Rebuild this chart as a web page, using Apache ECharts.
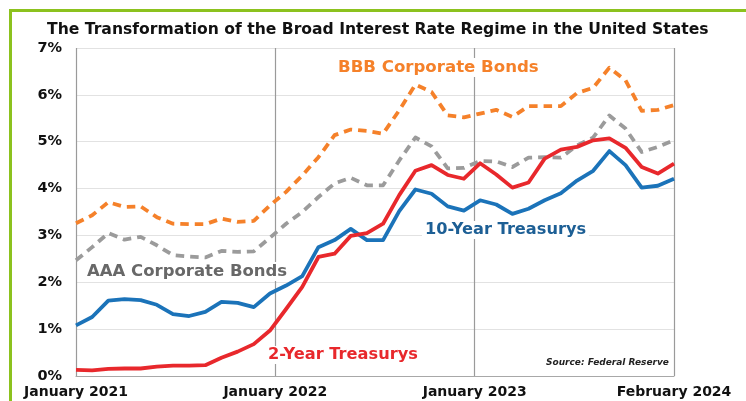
<!DOCTYPE html>
<html>
<head>
<meta charset="utf-8">
<title>Interest Rate Regime</title>
<script src="https://cdn.jsdelivr.net/npm/echarts@6/dist/echarts.min.js"></script>
<style>
  html, body { margin: 0; padding: 0; background: #ffffff; }
  #frame {
    position: absolute; left: 9px; top: 9px; width: 737px; height: 389px;
    border-top: 3px solid #8cc21e; border-left: 3px solid #8cc21e;
    border-bottom: 1px solid #cfcfcf;
  }
  #chart { position: absolute; left: 0; top: 0; width: 746px; height: 401px; }
</style>
</head>
<body>
<div id="frame"></div>
<div id="chart"></div>
<script>
// Monthly averages, January 2021 through February 2024 (percent)
const months = [
  '2021-01','2021-02','2021-03','2021-04','2021-05','2021-06','2021-07','2021-08','2021-09','2021-10','2021-11','2021-12',
  '2022-01','2022-02','2022-03','2022-04','2022-05','2022-06','2022-07','2022-08','2022-09','2022-10','2022-11','2022-12',
  '2023-01','2023-02','2023-03','2023-04','2023-05','2023-06','2023-07','2023-08','2023-09','2023-10','2023-11','2023-12',
  '2024-01','2024-02'
];

const bbbCorporate = [
  3.26, 3.43, 3.71, 3.61, 3.62, 3.39, 3.25, 3.24, 3.24, 3.36, 3.29, 3.31,
  3.64, 3.93, 4.28, 4.67, 5.14, 5.26, 5.23, 5.17, 5.67, 6.22, 6.06, 5.56,
  5.52, 5.60, 5.68, 5.53, 5.76, 5.76, 5.76, 6.04, 6.15, 6.58, 6.31, 5.66,
  5.68, 5.78
];

const aaaCorporate = [
  2.47, 2.75, 3.05, 2.91, 2.97, 2.79, 2.58, 2.55, 2.53, 2.67, 2.65, 2.66,
  2.95, 3.25, 3.50, 3.82, 4.11, 4.23, 4.07, 4.07, 4.60, 5.09, 4.90, 4.43,
  4.44, 4.59, 4.58, 4.46, 4.66, 4.67, 4.66, 4.92, 5.09, 5.56, 5.28, 4.78,
  4.89, 5.03
];

const tenYear = [
  1.08, 1.26, 1.61, 1.64, 1.62, 1.52, 1.32, 1.28, 1.37, 1.58, 1.56, 1.47,
  1.76, 1.93, 2.13, 2.75, 2.90, 3.14, 2.90, 2.90, 3.52, 3.98, 3.89, 3.62,
  3.53, 3.75, 3.66, 3.46, 3.57, 3.75, 3.90, 4.17, 4.38, 4.80, 4.50, 4.02,
  4.06, 4.21
];

const twoYear = [
  0.13, 0.12, 0.15, 0.16, 0.16, 0.20, 0.22, 0.22, 0.23, 0.39, 0.52, 0.68,
  0.97, 1.43, 1.90, 2.54, 2.61, 2.99, 3.05, 3.25, 3.86, 4.38, 4.50, 4.29,
  4.21, 4.54, 4.30, 4.02, 4.13, 4.64, 4.83, 4.89, 5.03, 5.07, 4.87, 4.46,
  4.32, 4.53
];

// Date labels spaced evenly across the time axis
const xTickLabels = ['January 2021', 'January 2022', 'January 2023', 'February 2024'];

const titleText = 'The Transformation of the Broad Interest Rate Regime in the United States';
const sourceText = 'Source: Federal Reserve';

const FONT = '"DejaVu Sans", sans-serif';

const chart = echarts.init(document.getElementById('chart'), null, { renderer: 'canvas' });

function lineSeries(name, data, color, dashed) {
  return {
    name: name,
    type: 'line',
    xAxisIndex: 0,
    data: data,
    symbol: 'none',
    smooth: false,
    z: dashed ? 3 : 4,
    lineStyle: {
      color: color,
      width: 3.8,
      type: dashed ? [8.5, 6] : 'solid',
      cap: 'butt',
      join: 'round'
    },
    emphasis: { disabled: true }
  };
}

function seriesLabel(text, left, top, color, size) {
  return {
    type: 'text',
    left: left,
    top: top,
    z: 100,
    style: {
      text: text,
      fill: color,
      font: 'bold ' + size + 'px ' + FONT,
      backgroundColor: '#ffffff',
      padding: [1, 3]
    }
  };
}

chart.setOption({
  animation: false,
  backgroundColor: 'transparent',
  title: {
    text: titleText,
    left: 47,
    top: 22,
    textStyle: { fontFamily: FONT, fontWeight: 'bold', fontSize: 15.6, color: '#111111' },
    padding: 0
  },
  grid: { left: 76, right: 72, top: 48, bottom: 25, containLabel: false },
  xAxis: [
    {
      type: 'category',
      data: months,
      boundaryGap: false,
      show: false
    },
    {
      type: 'value',
      position: 'bottom',
      min: 0,
      max: 3,
      interval: 1,
      axisLine: { show: true, onZero: false, lineStyle: { color: '#a8a8a8', width: 1.2 } },
      axisTick: { show: false },
      axisLabel: {
        margin: 9,
        fontFamily: FONT,
        fontWeight: 'bold',
        fontSize: 14,
        color: '#111111',
        formatter: function (v) { return xTickLabels[Math.round(v)]; }
      },
      splitLine: { show: true, lineStyle: { color: '#9a9a9a', width: 1.2 } }
    }
  ],
  yAxis: {
    type: 'value',
    min: 0,
    max: 7,
    interval: 1,
    axisLine: { show: false },
    axisTick: { show: false },
    axisLabel: {
      margin: 14,
      fontFamily: FONT,
      fontWeight: 'bold',
      fontSize: 14.5,
      color: '#111111',
      formatter: '{value}%'
    },
    splitLine: { show: true, lineStyle: { color: '#e2e2e2', width: 1.2 } }
  },
  series: [
    lineSeries('BBB Corporate Bonds', bbbCorporate, '#f5812a', true),
    lineSeries('AAA Corporate Bonds', aaaCorporate, '#9b9b9b', true),
    lineSeries('10-Year Treasurys', tenYear, '#1b73b9', false),
    lineSeries('2-Year Treasurys', twoYear, '#e8282c', false)
  ],
  graphic: [
    seriesLabel('BBB Corporate Bonds', 335, 58, '#f5812a', 16.6),
    seriesLabel('AAA Corporate Bonds', 84, 262, '#686868', 16.5),
    seriesLabel('10-Year Treasurys', 422, 221, '#1d5f95', 16.2),
    seriesLabel('2-Year Treasurys', 265, 346, '#e8282c', 16.2),
    {
      type: 'text',
      left: 546,
      top: 358,
      z: 100,
      style: {
        text: sourceText,
        fill: '#222222',
        font: 'italic bold 9px ' + FONT
      }
    }
  ]
});
</script>
</body>
</html>
